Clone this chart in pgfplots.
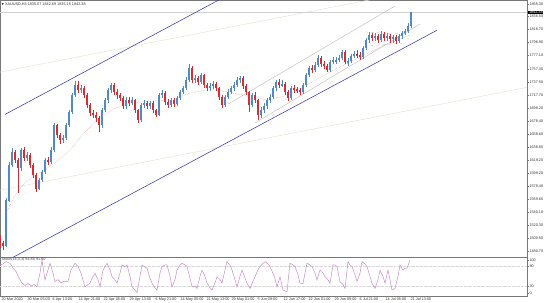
\documentclass[border=0pt]{standalone}
\usepackage{fontspec}
\setmainfont{Liberation Sans}
\newfontfamily\dejavu{DejaVu Sans}
\usepackage{pgfplots}
\usepackage{pgfplotstable}
\pgfplotsset{compat=1.18}
\definecolor{bull}{RGB}{80,140,195}
\definecolor{bear}{RGB}{215,45,50}
\definecolor{navyline}{RGB}{70,70,170}
\definecolor{chgray}{RGB}{185,185,195}
\definecolor{faintl}{RGB}{232,228,212}
\definecolor{maline}{RGB}{225,160,150}
\definecolor{stochc}{RGB}{200,140,200}
\definecolor{framec}{RGB}{120,120,120}

\pgfplotstableread{
x o h l c
0 1500.0 1505.0 1485.0 1492.8
3 1492.8 1496.0 1482.2 1489.8
6 1489.8 1562.0 1487.0 1558.0
9 1558.0 1616.0 1555.0 1611.1
12 1611.1 1636.9 1608.0 1630.8
15 1630.8 1634.0 1614.0 1618.7
18 1618.7 1622.0 1568.6 1606.6
21 1606.6 1637.0 1603.0 1633.9
24 1633.9 1638.0 1618.0 1621.7
27 1621.7 1631.0 1617.0 1626.3
30 1626.3 1629.0 1607.0 1611.1
33 1611.1 1614.0 1592.0 1596.0
36 1596.0 1599.0 1570.2 1576.2
39 1576.2 1592.0 1573.0 1588.4
42 1588.4 1604.0 1585.0 1600.5
45 1600.5 1622.0 1598.0 1618.7
48 1618.7 1624.0 1611.0 1615.7
51 1615.7 1638.0 1613.0 1633.9
54 1633.9 1674.8 1631.0 1671.8
57 1671.8 1674.0 1652.0 1656.6
60 1656.6 1660.0 1644.0 1649.0
63 1649.0 1657.0 1645.0 1652.1
66 1652.1 1675.0 1650.0 1671.8
69 1671.8 1695.0 1669.0 1691.5
72 1691.5 1721.0 1689.0 1717.3
75 1717.3 1738.5 1714.0 1732.5
78 1732.5 1738.0 1720.0 1724.9
81 1724.9 1733.0 1721.0 1727.9
84 1727.9 1731.0 1713.0 1717.3
87 1717.3 1720.0 1698.0 1702.1
90 1702.1 1705.0 1686.0 1690.0
93 1690.0 1695.0 1682.0 1687.0
96 1687.0 1692.0 1677.0 1682.4
99 1682.4 1686.0 1661.2 1671.8
102 1671.8 1698.0 1668.0 1694.5
105 1694.5 1713.0 1691.0 1709.7
108 1709.7 1728.0 1706.0 1724.9
111 1724.9 1736.0 1720.0 1732.5
114 1732.5 1735.0 1717.0 1721.8
117 1721.8 1726.0 1712.0 1717.3
120 1717.3 1721.0 1708.0 1712.7
123 1712.7 1716.0 1696.0 1700.6
126 1700.6 1714.0 1697.0 1709.7
129 1709.7 1715.0 1701.0 1705.2
132 1705.2 1714.0 1702.0 1709.7
135 1709.7 1712.0 1690.0 1694.5
138 1694.5 1697.0 1674.8 1679.4
141 1679.4 1706.0 1677.0 1702.1
144 1702.1 1710.0 1698.0 1705.2
147 1705.2 1709.0 1696.0 1700.6
150 1700.6 1709.0 1697.0 1705.2
153 1705.2 1708.0 1690.0 1694.5
156 1694.5 1697.0 1683.9 1687.0
159 1687.0 1721.0 1685.0 1717.3
162 1717.3 1725.0 1713.0 1720.3
165 1720.3 1723.0 1702.0 1706.7
168 1706.7 1711.0 1698.0 1702.1
171 1702.1 1713.0 1699.0 1709.7
174 1709.7 1713.0 1700.0 1703.6
177 1703.6 1716.0 1701.0 1712.7
180 1712.7 1725.0 1710.0 1721.8
183 1721.8 1731.0 1719.0 1727.9
186 1727.9 1744.0 1725.0 1740.0
189 1740.0 1764.3 1737.0 1758.2
192 1758.2 1762.0 1735.0 1740.0
195 1740.0 1748.0 1736.0 1743.1
198 1743.1 1747.0 1733.0 1737.0
201 1737.0 1751.0 1734.0 1747.6
204 1747.6 1750.0 1728.0 1732.5
207 1732.5 1736.0 1723.0 1727.9
210 1727.9 1735.0 1724.0 1730.9
213 1730.9 1738.0 1727.0 1734.0
216 1734.0 1737.0 1724.0 1727.9
219 1727.9 1730.0 1710.0 1714.3
222 1714.3 1717.0 1697.6 1702.1
225 1702.1 1718.0 1699.0 1714.3
228 1714.3 1726.0 1711.0 1721.8
231 1721.8 1731.0 1719.0 1727.9
234 1727.9 1737.0 1724.0 1732.5
237 1732.5 1744.0 1729.0 1740.0
240 1740.0 1746.0 1736.0 1743.1
243 1743.1 1746.0 1727.0 1730.9
246 1730.9 1734.0 1717.0 1721.8
249 1721.8 1724.0 1691.5 1702.1
252 1702.1 1721.0 1699.0 1717.3
255 1717.3 1722.0 1705.0 1709.7
258 1709.7 1712.0 1679.4 1687.0
261 1687.0 1699.0 1683.0 1694.5
264 1694.5 1705.0 1690.0 1700.6
267 1700.6 1713.0 1697.0 1709.7
270 1709.7 1719.0 1705.0 1714.3
273 1714.3 1731.0 1711.0 1727.9
276 1727.9 1740.0 1724.0 1737.0
279 1737.0 1741.0 1728.0 1732.5
282 1732.5 1740.0 1729.0 1734.0
285 1734.0 1737.0 1717.0 1721.8
288 1721.8 1725.0 1709.0 1712.7
291 1712.7 1731.0 1710.0 1727.9
294 1727.9 1732.0 1721.0 1726.4
297 1726.4 1730.0 1720.0 1724.9
300 1724.9 1728.0 1717.3 1721.8
303 1721.8 1736.0 1719.0 1732.5
306 1732.5 1751.0 1730.0 1747.6
309 1747.6 1762.0 1745.0 1758.2
312 1758.2 1763.0 1751.0 1755.2
315 1755.2 1767.0 1752.0 1762.8
318 1762.8 1778.0 1760.0 1773.4
321 1773.4 1776.0 1760.0 1764.3
324 1764.3 1769.0 1757.0 1761.3
327 1761.3 1765.0 1752.2 1755.2
330 1755.2 1771.0 1753.0 1767.3
333 1767.3 1775.0 1764.0 1770.4
336 1768.0 1775.0 1765.0 1770.4
339 1770.4 1778.0 1767.0 1773.4
342 1773.4 1785.5 1770.0 1782.5
345 1782.5 1785.0 1764.0 1767.3
348 1767.3 1773.0 1762.0 1769.0
351 1769.0 1780.0 1766.0 1776.4
354 1776.4 1784.0 1774.0 1779.5
357 1779.5 1785.0 1774.0 1778.0
360 1778.0 1782.0 1770.0 1774.9
363 1774.9 1792.0 1772.0 1788.6
366 1788.6 1804.0 1786.0 1800.7
369 1800.7 1813.0 1797.0 1808.3
372 1808.3 1812.0 1799.0 1803.7
375 1803.7 1811.0 1799.0 1806.8
378 1806.8 1810.0 1796.0 1800.7
381 1800.7 1814.0 1798.0 1809.8
384 1809.8 1813.0 1799.0 1803.7
387 1803.7 1811.0 1800.0 1806.8
390 1806.8 1810.0 1797.0 1802.2
393 1802.2 1809.0 1797.0 1805.3
396 1805.3 1808.0 1795.0 1799.2
399 1799.2 1810.0 1796.0 1806.8
402 1806.8 1815.0 1803.0 1811.3
405 1811.3 1818.0 1808.0 1814.4
408 1814.4 1826.0 1811.0 1821.9
411 1821.9 1843.2 1819.0 1842.4
}\candles

\pgfplotsset{candle/.style={draw=none, mark=none, forget plot,
  error bars/.cd, y dir=both, y explicit, error mark=none}}

\begin{document}
\begin{tikzpicture}
\path[use as bounding box] (0,0) rectangle (546bp,-303bp);
\begin{axis}[
  at={(0,0)}, anchor=north west, scale only axis,
  width=527bp, height=257.3bp,
  xmin=0, xmax=527, ymin=1471.6, ymax=1861.4,
  axis line style={framec, line width=0.4pt},
  xtick=\empty,
  ytick={1480.7,1500.5,1520.3,1540.1,1559.6,1579.4,1599.2,1619.2,1638.8,1658.6,1678.4,1698.2,1717.7,1737.5,1757.3,1777.1,1796.9,1816.7,1836.5,1855.3},
  yticklabels={1480.70,1500.50,1520.30,1540.10,1559.60,1579.40,1599.20,1619.20,1638.80,1658.60,1678.40,1698.20,1717.70,1737.50,1757.30,1777.10,1796.90,1816.70,1836.50,1855.30},
  ytick pos=right, tick align=outside, major tick length=1.5bp,
  tick style={framec, line width=0.3pt},
  yticklabel style={font=\fontsize{3.8}{4}\selectfont, text=black!80, inner xsep=0.8bp},
]
% faint long-term channel
\addplot[faintl, line width=0.5pt] coordinates {(0,1752.2) (527,1908.1)};
\addplot[faintl, line width=0.5pt] coordinates {(0,1573.2) (527,1729.0)};
% bid line
\addplot[black!18, line width=0.3pt] coordinates {(0,1842.38) (527,1842.38)};
% main navy channel
\addplot[navyline, line width=0.6pt] coordinates {(5,1688.0) (437,2038.5)};
\addplot[navyline, line width=0.6pt] coordinates {(5,1465.1) (437,1815.6)};
% short gray channel
\addplot[chgray, line width=0.4pt] coordinates {(228,1703.6) (395,1852.3)};
\addplot[chgray, line width=0.4pt] coordinates {(255,1675.0) (420,1825.0)};
% flag dashed lines
\addplot[chgray, dashed, line width=0.35pt] coordinates {(365,1813.0) (398,1810.0)};
\addplot[chgray, dashed, line width=0.35pt] coordinates {(370,1792.0) (402,1796.0)};
% moving average
\addplot[maline, densely dotted, line width=0.5pt] coordinates {
(5,1535.3) (15,1565.6) (25,1585.3) (40,1600.5) (55,1614.2) (70,1633.9) (85,1661.2)
(100,1683.9) (115,1697.6) (130,1705.2) (150,1708.2) (170,1709.7) (190,1720.3)
(210,1726.4) (230,1721.8) (250,1714.3) (270,1709.7) (290,1718.8) (310,1735.5)
(330,1752.2) (350,1767.3) (370,1782.5) (390,1796.2) (410,1808.3)};
% candle wicks
\addplot[candle, error bar style={draw=bull, line width=0.4bp}]
  table[x=x, y expr={\thisrow{c}<\thisrow{o} ? nan : (\thisrow{h}+\thisrow{l})/2},
        y error expr={(\thisrow{h}-\thisrow{l})/2}] {\candles};
\addplot[candle, error bar style={draw=bear, line width=0.4bp}]
  table[x=x, y expr={\thisrow{c}<\thisrow{o} ? (\thisrow{h}+\thisrow{l})/2 : nan},
        y error expr={(\thisrow{h}-\thisrow{l})/2}] {\candles};
% candle bodies
\addplot[candle, error bar style={draw=bull, line width=1.25bp}]
  table[x=x, y expr={\thisrow{c}<\thisrow{o} ? nan : (\thisrow{o}+\thisrow{c})/2},
        y error expr={abs(\thisrow{c}-\thisrow{o})/2+0.4}] {\candles};
\addplot[candle, error bar style={draw=bear, line width=1.25bp}]
  table[x=x, y expr={\thisrow{c}<\thisrow{o} ? (\thisrow{o}+\thisrow{c})/2 : nan},
        y error expr={abs(\thisrow{c}-\thisrow{o})/2+0.4}] {\candles};
\coordinate (lastp) at (axis cs:527,1842.38);
\coordinate (hdr) at (axis cs:1,1855.3);
\end{axis}

\begin{axis}[
  at={(0,-257.3bp)}, anchor=north west, scale only axis,
  width=527bp, height=38.4bp,
  xmin=0, xmax=527, ymin=-9.2, ymax=108.3,
  axis line style={framec, line width=0.4pt},
  xtick={1,27,52,78,103,129,155,180,206,231,257,283,308,334,359,385,410},
  xticklabels={20 Mar 2020,30 Mar 05:00,6 Apr 13:00,14 Apr 21:00,22 Apr 05:00,29 Apr 13:00,6 May 21:00,14 May 05:00,21 May 13:00,29 May 01:00,5 Jun 09:00,12 Jun 17:00,22 Jun 01:00,29 Jun 09:00,6 Jul 21:00,14 Jul 05:00,21 Jul 13:00},
  xtick pos=bottom,
  xticklabel style={font=\fontsize{3.8}{4}\selectfont, text=black!80, anchor=north west, inner sep=0.4bp},
  ytick={0,20,80,100}, yticklabels={0,20,80,100},
  ytick pos=right, tick align=outside, major tick length=1.5bp,
  tick style={framec, line width=0.3pt},
  yticklabel style={font=\fontsize{3.8}{4}\selectfont, text=black!80, inner xsep=0.8bp},
]
\addplot[black!15, densely dotted, line width=0.3pt] coordinates {(0,80) (527,80)};
\addplot[black!15, densely dotted, line width=0.3pt] coordinates {(0,20) (527,20)};
\addplot[stochc, line width=0.5pt] coordinates {
(0,85) (3,88) (6,95) (10,90) (13,75) (16,65) (19,45) (22,30) (25,22) (28,28) (31,20) (34,25) (37,18)
(40,60) (42,100) (45,39) (48,70) (50,90) (53,60) (55,34) (58,40) (61,30) (64,35) (68,34) (71,70)
(75,90) (78,80) (81,60) (85,18) (88,25) (90,29) (93,50) (95,59) (98,40) (100,18) (103,69) (107,90)
(110,70) (112,49) (115,40) (117,29) (120,60) (122,85) (125,80) (127,85) (130,50) (132,18) (135,8)
(137,0) (140,50) (142,85) (145,78) (147,75) (150,45) (152,29) (155,15) (157,8) (160,60) (162,80)
(165,85) (167,85) (170,50) (172,18) (175,40) (177,69) (180,85) (182,90) (185,85) (187,80) (190,45)
(192,18) (195,20) (197,13) (200,50) (202,69) (205,50) (207,29) (210,15) (212,8) (215,30) (217,49)
(220,40) (222,29) (225,70) (227,95) (230,85) (232,69) (235,40) (237,18) (240,50) (242,69) (245,45)
(247,29) (250,13) (253,35) (255,49) (258,70) (260,80) (263,90) (265,95) (268,88) (270,80) (273,59)
(275,44) (277,18) (280,49) (283,8) (287,3) (290,90) (293,85) (295,80) (298,55) (300,29) (303,28)
(305,60) (307,90) (310,85) (312,80) (315,60) (317,39) (320,69) (323,60) (325,49) (328,40) (330,29)
(333,85) (335,85) (337,80) (340,34) (343,25) (345,13) (348,95) (350,85) (352,80) (355,55) (357,34)
(360,60) (362,95) (365,88) (367,80) (370,50) (372,29) (375,13) (378,40) (380,69) (383,50) (385,29)
(388,69) (390,40) (392,8) (395,13) (398,50) (400,85) (403,69) (405,75) (407,75) (410,100)};
\coordinate (stl) at (axis cs:1,100);
\end{axis}
\node[anchor=west, fill=black, text=white, inner xsep=0.8bp, inner ysep=0.5bp,
  font=\fontsize{3.8}{4}\selectfont] at ([xshift=1bp]lastp) {1842.38};
\node[anchor=west, inner sep=0.5bp, text=black!80, font=\fontsize{3.8}{4}\selectfont] at (hdr)
  {{\dejavu\fontsize{3}{4}\selectfont ▼} XAUUSD,H4 1835.07 1842.69 1835.15 1842.38};
\node[anchor=west, inner sep=0.5bp, text=black!75, font=\fontsize{3.8}{4}\selectfont] at (stl)
  {Stoch(14,3,3) 94.85 91.60};
\end{tikzpicture}
\end{document}
